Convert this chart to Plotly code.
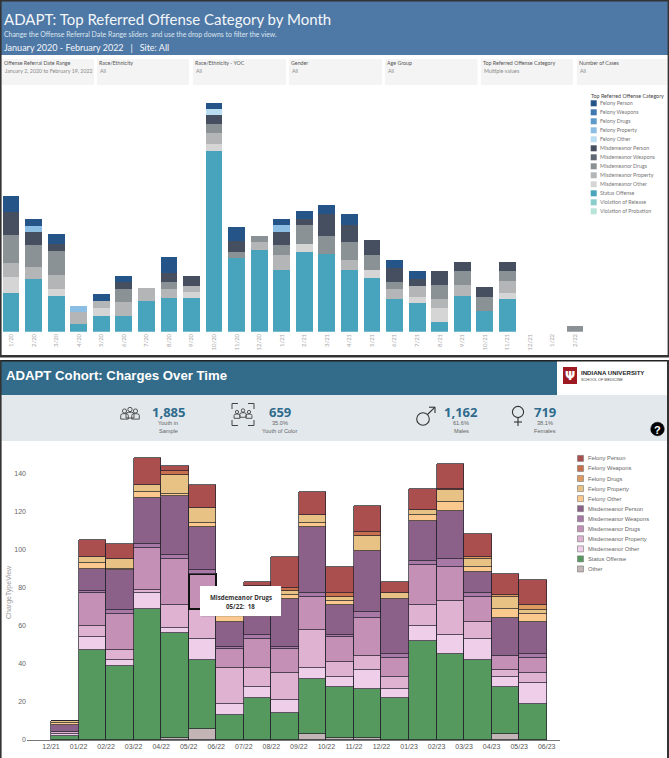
import plotly.graph_objects as go

W, H = 669, 758

# ---------- top chart data (estimated heights, arbitrary units) ----------
top_months = ["1/20","2/20","3/20","4/20","5/20","6/20","7/20","8/20","9/20","10/20","11/20","12/20",
              "1/21","2/21","3/21","4/21","5/21","6/21","7/21","8/21","9/21","10/21","11/21","12/21","1/22","2/22"]
t_status   = [116,157,108,23,48,48,93,101,101,541,220,245,186,239,234,186,160,97,86,29,108,63,97,0,0,0]
t_mis_oth  = [48,0,19,0,22,0,0,0,18,22,0,0,0,25,0,0,26,0,18,41,0,0,19,0,0,0]
t_mis_prop = [41,37,44,37,23,41,37,26,18,33,0,23,45,0,0,30,0,30,33,27,33,0,36,0,0,0]
t_mis_drug = [86,66,72,0,0,38,0,22,0,26,19,19,29,57,53,52,45,22,0,44,41,41,30,0,0,18]
t_mis_pers = [67,38,21,0,0,22,0,26,30,27,33,0,38,18,67,52,44,41,20,41,27,29,27,0,0,0]
t_fel_oth  = [0,0,0,0,0,0,0,0,0,19,0,0,0,0,0,0,0,0,0,0,0,0,0,0,0,0]
t_fel_prop = [0,19,0,18,0,0,0,0,0,0,0,0,22,0,0,0,0,0,0,0,0,0,0,0,0,0]
t_fel_pers = [48,22,28,0,19,18,0,49,0,18,41,0,19,22,26,34,0,26,25,0,0,0,0,0,0,0]

top_legend_names = ["Felony Person","Felony Weapons","Felony Drugs","Felony Property","Felony Other",
                    "Misdemeanor Person","Misdemeanor Weapons","Misdemeanor Drugs","Misdemeanor Property",
                    "Misdemeanor Other","Status Offense","Violation of Release","Violation of Probation"]
top_legend_colors = ["#245488","#3F78B0","#5E9AC9","#8CBEE3","#BBDDF0","#454F60","#5E6875","#8A9296",
                     "#B3B5B7","#D5D5D5","#47A4BC","#8BCDCB","#B8E3D8"]
top_series = [("Status Offense",t_status),("Misdemeanor Other",t_mis_oth),("Misdemeanor Property",t_mis_prop),
              ("Misdemeanor Drugs",t_mis_drug),("Misdemeanor Person",t_mis_pers),("Felony Other",t_fel_oth),
              ("Felony Property",t_fel_prop),("Felony Person",t_fel_pers)]
top_color = dict(zip(top_legend_names, top_legend_colors))

filter_titles = ["Offense Referral Date Range","Race/Ethnicity","Race/Ethnicity - YOC","Gender","Age Group",
                 "Top Referred Offense Category","Number of Cases"]
filter_values = ["January 2, 2020 to February 19, 2022","All","All","All","All","Multiple values","All"]

# ---------- bottom chart data ----------
bot_ticks = ["12/21","01/22","02/22","03/22","04/22","05/22","06/22","07/22","08/22","09/22","10/22","11/22",
             "12/22","01/23","02/23","03/23","04/23","05/23","06/23"]
b_other    = [0,0,0,0,1,6,0,0,0,3,1,1,0,0,0,0,3,0]
b_status   = [2,47,39,69,55,36,13,22,14,29,27,26,22,52,45,42,25,19]
b_mis_oth  = [1,7,3,8,3,11,6,6,7,6,5,10,5,8,10,11,5,11]
b_mis_prop = [1,6,5,2,12,16,19,10,14,20,8,7,6,11,18,9,4,5]
b_mis_drug = [0,17,19,22,24,18,10,15,13,17,13,20,10,21,18,13,7,8]
b_mis_weap = [0,1,2,2,2,2,1,2,1,2,1,3,2,2,4,2,0,2]
b_mis_pers = [4,12,21,24,31,23,13,16,25,35,16,32,29,21,25,11,20,17]
b_fel_oth  = [1,3,1,3,1,2,3,3,2,2,2,0,0,3,5,3,5,4]
b_fel_prop = [1,3,5,4,10,8,2,4,2,4,2,8,3,3,6,4,6,2]
b_fel_drug = [0,0,0,0,0,0,0,0,0,0,0,0,0,0,0,1,1,3]
b_fel_weap = [0,0,0,0,2,0,0,3,2,0,2,2,0,0,1,0,0,0]
b_fel_pers = [0,9,8,14,3,12,6,2,16,12,14,14,6,11,13,12,11,13]

bot_legend_names = ["Felony Person","Felony Weapons","Felony Drugs","Felony Property","Felony Other",
                    "Misdemeanor Person","Misdemeanor Weapons","Misdemeanor Drugs","Misdemeanor Property",
                    "Misdemeanor Other","Status Offense","Other"]
bot_legend_colors = ["#AB4E4E","#C8704E","#DE9A60","#E8C285","#FBC98E","#8C6189","#A878A6","#C490B5",
                     "#DFB2D2","#EFCEEA","#55995F","#C3B5B5"]
bot_color = dict(zip(bot_legend_names, bot_legend_colors))
bot_series = [("Other",b_other),("Status Offense",b_status),("Misdemeanor Other",b_mis_oth),
              ("Misdemeanor Property",b_mis_prop),("Misdemeanor Drugs",b_mis_drug),("Misdemeanor Weapons",b_mis_weap),
              ("Misdemeanor Person",b_mis_pers),("Felony Other",b_fel_oth),("Felony Property",b_fel_prop),
              ("Felony Drugs",b_fel_drug),("Felony Weapons",b_fel_weap),("Felony Person",b_fel_pers)]

stat_values = ["1,885","659","1,162","719"]
stat_line1 = ["Youth in","35.0%","61.6%","38.1%"]
stat_line2 = ["Sample","Youth of Color","Males","Females"]
highlight_month = 5  # 05/22

# ---------- helpers ----------
def fx(x): return x / W
def fy(y): return 1 - y / H
shapes, annots = [], []

def rect(x0, y0, x1, y1, fill, line=None, lw=0, layer="above"):
    shapes.append(dict(type="rect", xref="paper", yref="paper", x0=fx(x0), x1=fx(x1), y0=fy(y0), y1=fy(y1),
                       fillcolor=fill, line=dict(color=line or fill, width=lw), layer=layer))

def circle(cx, cy, r, line="#333333", lw=1, fill="rgba(0,0,0,0)"):
    shapes.append(dict(type="circle", xref="paper", yref="paper", x0=fx(cx-r), x1=fx(cx+r), y0=fy(cy-r), y1=fy(cy+r),
                       fillcolor=fill, line=dict(color=line, width=lw), layer="above"))

def seg(x0, y0, x1, y1, color="#333333", lw=1):
    shapes.append(dict(type="line", xref="paper", yref="paper", x0=fx(x0), x1=fx(x1), y0=fy(y0), y1=fy(y1),
                       line=dict(color=color, width=lw), layer="above"))

def text(x, y, s, size=8, color="#555555", anchor="left", family="Lato", bold=False, angle=0):
    if bold:
        s = "<b>" + s + "</b>"
    annots.append(dict(xref="paper", yref="paper", x=fx(x), y=fy(y), text=s, showarrow=False, xanchor=anchor,
                       yanchor="middle", align=anchor, textangle=angle,
                       font=dict(size=size, color=color, family=family), borderpad=0))

def person(cx, cy, s=1.0, lw=0.9):
    # head and rounded torso of a small person pictogram
    circle(cx, cy, 2.3*s, lw=lw, line="#444444", fill="rgba(0,0,0,0)")
    x0, x1 = cx-4.2*s, cx+4.2*s
    top, bot = cy+3*s, cy+9*s
    path = (f"M {fx(x0)},{fy(bot)} L {fx(x0)},{fy(top+2*s)} Q {fx(x0)},{fy(top)} {fx(cx-1.5*s)},{fy(top)} "
            f"L {fx(cx+1.5*s)},{fy(top)} Q {fx(x1)},{fy(top)} {fx(x1)},{fy(top+2*s)} L {fx(x1)},{fy(bot)} Z")
    shapes.append(dict(type="path", xref="paper", yref="paper", path=path, fillcolor="rgba(0,0,0,0)",
                       line=dict(color="#444444", width=lw), layer="above"))

# ---------- panel backgrounds ----------
rect(1, 1, 668, 55, "#4E78A6", layer="below")
rect(0, 0, W, 1.4, "#333333")
rect(0, 0, 1.6, 357, "#333333")
rect(667.6, 0, W, 357, "#333333")
rect(0, 355, W, 357.5, "#333333")

card_x = [(2,94),(97,189),(193,286),(289,382),(385,477.5),(481,573),(577,667)]
for (a, b), t, v in zip(card_x, filter_titles, filter_values):
    rect(a, 59, b, 85, "#F4F4F4", layer="below")
    text(a+0.5, 63.5, t, size=5.3, color="#555555")
    text(a+1.5, 71, v, size=5.3, color="#8A8A8A")

text(3, 19.5, "ADAPT: Top Referred Offense Category by Month", size=15, color="#F4F7FA")
text(3, 34, "Change the Offense Referral Date Range sliders  and use the drop downs to filter the view.", size=6.9, color="#DCE6F0")
text(3, 47, "January 2020 - February 2022&nbsp;&nbsp;&nbsp;|&nbsp;&nbsp;&nbsp;Site: All", size=9, color="#F4F7FA")

# top legend
text(590, 95.5, "Top Referred Offense Category", size=5.35, color="#444444")
for i, (n, c) in enumerate(zip(top_legend_names, top_legend_colors)):
    y = 103.3 + 9.0 * i
    rect(590.7, y-3, 596.7, y+3, c)
    text(598.5, y, n, size=5.3, color="#777777")

# bottom header
rect(1, 360.5, 557, 395, "#336B8A", layer="below")
rect(557, 360.5, 667, 395, "#FFFFFF", layer="below")
rect(1, 395, 667, 441, "#E2E8EC", layer="below")
rect(0, 360, W, 361.5, "#222222")
rect(0, 360, 1.6, H, "#333333")
rect(667, 360, W, H, "#333333")
text(5, 375.5, "ADAPT Cohort: Charges Over Time", size=13.2, color="#FFFFFF", family="Liberation Sans", bold=True)

rect(563, 367, 577, 384, "#9D1A22")
text(570, 375.5, "Ψ", size=12, color="#FFFFFF", anchor="center", family="DejaVu Sans", bold=True)
text(580, 372.2, "INDIANA UNIVERSITY", size=6.1, color="#222222", family="Liberation Sans", bold=True)
text(580, 379.5, "SCHOOL OF MEDICINE", size=3.8, color="#444444", family="Liberation Sans")

stat_x = [168, 279.5, 461, 545]
for x, v, l1, l2 in zip(stat_x, stat_values, stat_line1, stat_line2):
    text(x, 412, v, size=13, color="#2F6B8C", anchor="center", family="Open Sans", bold=True)
    text(x, 423, l1, size=5.6, color="#666666", anchor="center", family="Liberation Sans")
    text(x, 431, l2, size=5.6, color="#666666", anchor="center", family="Liberation Sans")

# stat icons
for cx, cy, s in [(124.5,411,0.9),(135.5,411,0.9),(130,409.5,0.95)]:
    person(cx, cy, s)
for cx, cy, s in [(237,412,0.7),(249,412,0.7),(243,410.5,0.75)]:
    person(cx, cy, s)
for (a, b, c, d, e, f) in [(232,409,232,403.5,238,403.5),(248,403.5,254,403.5,254,409),
                           (232,420,232,425.5,238,425.5),(248,425.5,254,425.5,254,420)]:
    seg(a, b, c, d, "#444444", 1); seg(c, d, e, f, "#444444", 1)
circle(423, 419, 6.3, line="#333333", lw=1.1)
seg(427.5, 414.5, 435, 407.2, "#333333", 1.1)
seg(429, 407.2, 435, 407.2, "#333333", 1.1)
seg(435, 407.2, 435, 413, "#333333", 1.1)
circle(518, 412, 5.6, line="#333333", lw=1.1)
seg(518, 417.6, 518, 426, "#333333", 1.1)
seg(514, 422, 522, 422, "#333333", 1.1)
circle(657.5, 429, 6.8, line="#000000", lw=0.5, fill="#000000")
text(657.5, 429.5, "?", size=11, color="#FFFFFF", anchor="center", family="Liberation Sans", bold=True)

# bottom legend
for i, (n, c) in enumerate(zip(bot_legend_names, bot_legend_colors)):
    y = 458.4 + 10.05 * i
    rect(577.5, y-3, 583.5, y+3, c, line="#777777", lw=0.6)
    text(586.5, y, n, size=5.8, color="#666666", family="Liberation Sans")

text(9, 592, "ChargeTypeView", size=7, color="#999999", anchor="center", family="Liberation Sans", angle=-90)

# tooltip
rect(201, 587, 282, 617, "rgba(120,120,120,0.25)")
rect(200, 586, 281, 616, "#FFFFFF")
text(240.5, 597, "Misdemeanor Drugs", size=6.2, color="#333333", anchor="center", family="Open Sans", bold=True)
text(240.5, 606, "05/22:&nbsp;&nbsp;18", size=6.2, color="#333333", anchor="center", family="Open Sans", bold=True)

# ---------- traces ----------
fig = go.Figure()
for name, vals in top_series:
    fig.add_trace(go.Bar(x=top_months, y=vals, name=name, marker=dict(color=top_color[name], line=dict(width=0)),
                         width=0.745, xaxis="x", yaxis="y", showlegend=False))

bx = list(range(len(b_status)))
for name, vals in bot_series:
    lw = [2.0 if (name == "Misdemeanor Drugs" and i == highlight_month) else 0.9 for i in bx]
    lc = ["#111111" if (name == "Misdemeanor Drugs" and i == highlight_month) else "rgba(35,35,45,0.8)" for i in bx]
    fig.add_trace(go.Bar(x=bx, y=vals, name=name, width=1, offset=0,
                         marker=dict(color=bot_color[name], line=dict(color=lc, width=lw)),
                         xaxis="x2", yaxis="y2", showlegend=False))

bot_base, bot_unit = 740, 1.905
bot_x0, bot_step = 51, 27.54
fig.update_layout(
    template="none",
    width=W, height=H, margin=dict(l=0, r=0, t=0, b=0, pad=0, autoexpand=False), paper_bgcolor="white", plot_bgcolor="rgba(0,0,0,0)",
    barmode="stack", bargap=0, showlegend=False, shapes=shapes, annotations=annots,
    font=dict(family="Liberation Sans"),
    xaxis=dict(domain=[0, fx(586.3)], type="category", categoryorder="array", categoryarray=top_months,
               range=[-0.49, 25.5], tickangle=-90, tickfont=dict(size=6, color="#A8A8A8", family="Lato"),
               showgrid=False, zeroline=False, showline=False, ticks="", automargin=False, anchor="y"),
    yaxis=dict(domain=[fy(331.7), fy(95)], range=[0, (331.7-95)*3], visible=False, automargin=False, anchor="x"),
    xaxis2=dict(domain=[fx(27), fx(560)], range=[(27-bot_x0)/bot_step, (560-bot_x0)/bot_step], anchor="y2",
                tickmode="array", tickvals=list(range(len(bot_ticks))), ticktext=bot_ticks, automargin=False,
                tickangle=0, tickfont=dict(size=7, color="#555555", family="Liberation Sans"),
                showgrid=False, zeroline=False, showline=True, linecolor="#777777", linewidth=1, ticks=""),
    yaxis2=dict(domain=[fy(bot_base), fy(445)], range=[0, (bot_base-445)/bot_unit], tickmode="array", anchor="x2", automargin=False,
                tickvals=[0,20,40,60,80,100,120,140], tickfont=dict(size=7, color="#666666", family="Liberation Sans"),
                showgrid=False, zeroline=False, showline=False, ticks=""),
)
fig.write_html("out.html", config=dict(displayModeBar=False),
               post_script="document.body.style.margin='0';document.body.style.overflow='hidden';")
